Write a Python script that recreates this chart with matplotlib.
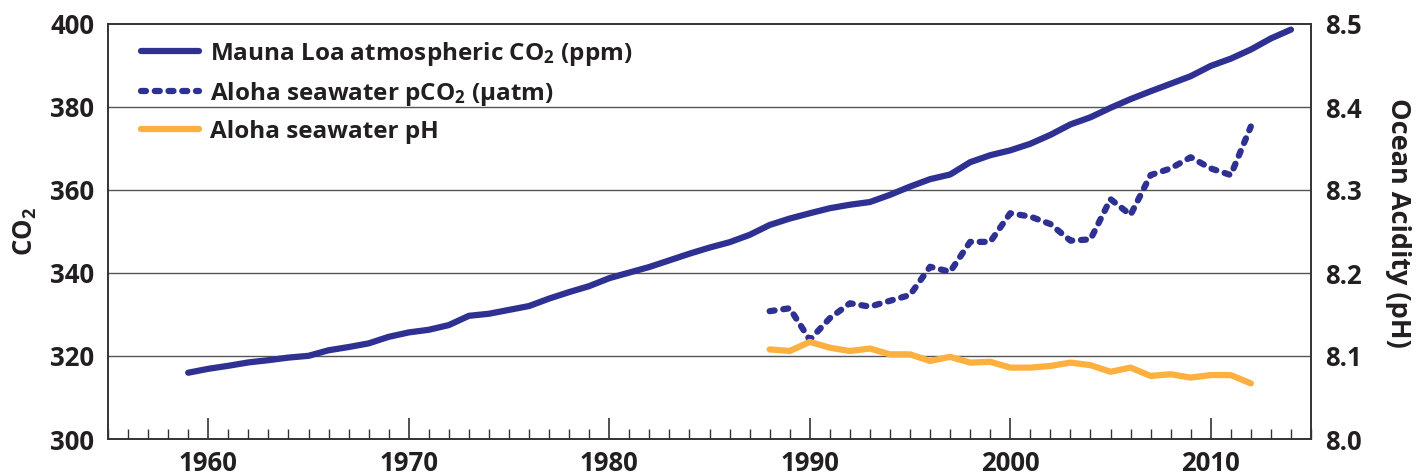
import matplotlib
matplotlib.use("Agg")
import matplotlib.pyplot as plt
from matplotlib.ticker import MultipleLocator

plt.rcParams['font.family'] = ['Open Sans', 'DejaVu Sans']
plt.rcParams['font.weight'] = 'bold'
plt.rcParams['mathtext.fontset'] = 'custom'
plt.rcParams['mathtext.rm'] = 'Open Sans:bold'
plt.rcParams['mathtext.bf'] = 'Open Sans:bold'
plt.rcParams['mathtext.default'] = 'bf'

# Mauna Loa annual mean CO2 (ppm)
ml_years = list(range(1959, 2015))
ml_co2 = [315.97, 316.91, 317.64, 318.45, 318.99, 319.62, 320.04, 321.38, 322.16, 323.04,
          324.62, 325.68, 326.32, 327.45, 329.68, 330.18, 331.11, 332.04, 333.83, 335.40,
          336.84, 338.75, 340.11, 341.45, 343.05, 344.65, 346.12, 347.42, 349.19, 351.57,
          353.12, 354.39, 355.61, 356.45, 357.10, 358.83, 360.82, 362.61, 363.73, 366.70,
          368.38, 369.55, 371.14, 373.28, 375.80, 377.52, 379.80, 381.90, 383.79, 385.60,
          387.43, 389.90, 391.65, 393.85, 396.52, 398.65]

# Station ALOHA
aloha_years = list(range(1988, 2013))
aloha_pco2 = [330.8, 331.5, 323.9, 329.1, 332.7, 331.9, 333.3, 334.7, 341.5, 340.3,
              347.5, 347.5, 354.4, 353.6, 351.8, 347.8, 348.1, 357.8, 354.0, 363.6,
              365.2, 367.9, 365.2, 363.6, 375.3]
aloha_ph = [8.108, 8.106, 8.117, 8.110, 8.106, 8.109, 8.102, 8.102, 8.094, 8.099,
            8.092, 8.093, 8.086, 8.086, 8.088, 8.092, 8.089, 8.081, 8.086, 8.076,
            8.078, 8.074, 8.077, 8.077, 8.067]

co2_ticks = [300, 320, 340, 360, 380, 400]
ph_ticks = [8.0, 8.1, 8.2, 8.3, 8.4, 8.5]
x_ticks = [1960, 1970, 1980, 1990, 2000, 2010]

navy = '#2E3192'
orange = '#FBB040'
dark = '#333333'
txt = '#231F20'
fs = 18.5

fig = plt.figure(figsize=(14.18, 4.76), dpi=100)
ax = fig.add_axes([108/1418, 1-439/476, (1311-108)/1418, (439-24)/476])
ax2 = ax.twinx()

ax.set_xlim(1955, 2015)
ax.set_ylim(300, 400)
ax2.set_ylim(8.0, 8.5)

for y in co2_ticks[1:-1]:
    ax.axhline(y, color='#555555', lw=1.0, zorder=0)

l1, = ax.plot(ml_years, ml_co2, color=navy, lw=4.5, solid_capstyle='round',
              solid_joinstyle='round', label='Mauna Loa atmospheric CO$_2$ (ppm)', zorder=3)
l2, = ax.plot(aloha_years, aloha_pco2, color=navy, lw=4.5, linestyle=(0, (0.8, 1.4)),
              dash_capstyle='round', label='Aloha seawater pCO$_2$ (µatm)', zorder=3)
l3, = ax2.plot(aloha_years, aloha_ph, color=orange, lw=4.5, solid_capstyle='round',
               solid_joinstyle='round', label='Aloha seawater pH', zorder=3)

ax.set_yticks(co2_ticks)
ax2.set_yticks(ph_ticks)
ax2.set_yticklabels([f'{v:.1f}' for v in ph_ticks])
ax.set_xticks(x_ticks)
ax.xaxis.set_minor_locator(MultipleLocator(1))

ax.tick_params(axis='x', which='major', direction='in', length=15, width=1.2,
               color=dark, labelsize=fs, pad=8)
ax.tick_params(axis='x', which='minor', direction='in', length=7, width=1.0, color=dark)
ax.tick_params(axis='y', length=0, labelsize=fs, pad=10)
ax2.tick_params(axis='y', length=0, labelsize=fs, pad=10)
for lab in ax.get_xticklabels() + ax.get_yticklabels() + ax2.get_yticklabels():
    lab.set_fontweight('bold')
    lab.set_color(txt)

for a in (ax, ax2):
    for s in a.spines.values():
        s.set_color(dark)
        s.set_linewidth(1.2)

ax.set_ylabel('CO$_2$', fontsize=fs, fontweight='bold', color=txt, labelpad=8)
ax2.set_ylabel('Ocean Acidity (pH)', fontsize=19.5, fontweight='bold', color=txt,
               rotation=270, va='center')
ax2.yaxis.set_label_coords(1.0 + (1398 - 1311) / 1203, 0.52)

leg = ax.legend(handles=[l1, l2, l3], loc='upper left', frameon=False, fontsize=17.5,
                handlelength=2.4, handletextpad=0.45, labelspacing=0.5,
                bbox_to_anchor=(0.009, 1.015))
for t in leg.get_texts():
    t.set_color(txt)
    t.set_fontweight('bold')

fig.savefig('out.png', dpi=100)
